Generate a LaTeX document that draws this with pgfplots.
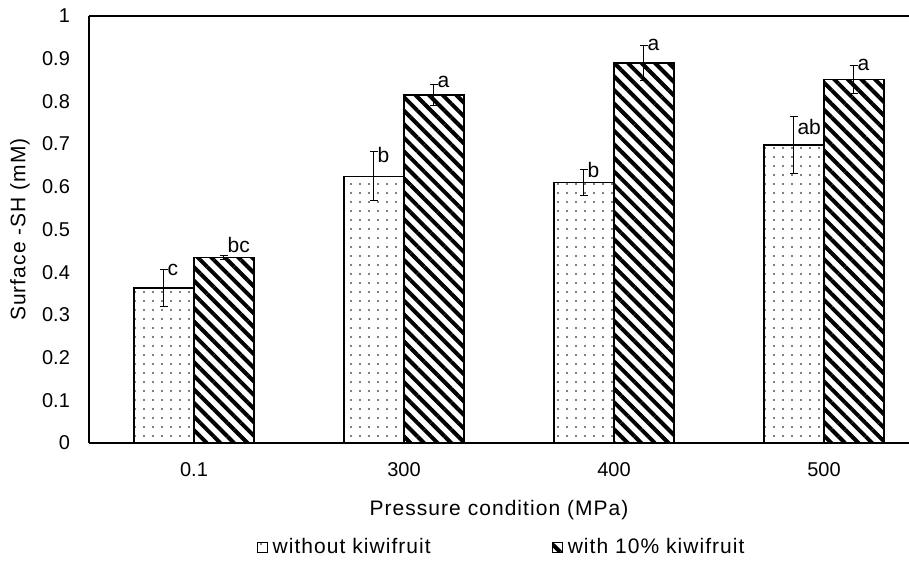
\documentclass[border=0pt]{standalone}
\usepackage{fontspec}
\setmainfont{Liberation Sans}
\newfontfamily\widefont[LetterSpace=5]{Liberation Sans}
\usepackage{pgfplots}
\pgfplotsset{compat=1.18}
\usepackage{pgfplotstable}
\usetikzlibrary{patterns.meta,calc}

% x: category index, w = without kiwifruit, k = with 10% kiwifruit
% wo/ko: small vertical nudge of the letter label (pt)
\pgfplotstableread{
x w werr wl wo k kerr kl ko
0 0.363 0.043 c 0 0.435 0.005 bc 5
1 0.625 0.058 b -2 0.815 0.025 a 1
2 0.610 0.030 b 0 0.890 0.042 a 0
3 0.698 0.066 ab -5 0.852 0.033 a 0
}\shdata

\begin{document}
\fontsize{10}{12}\selectfont
\begin{tikzpicture}
\begin{axis}[
  name=ax,
  scale only axis,
  width=410pt, height=213.5pt,
  ybar=0pt, bar width=30pt,
  xmin=-0.5, xmax=3.405,
  ymin=0, ymax=1,
  axis x line*=bottom, axis y line*=left,
  axis line style={-, line width=0.6pt},
  xtick=data, xticklabels={0.1,300,400,500},
  ytick={0,0.1,...,1.01},
  major tick length=0pt,
  /pgf/number format/assume math mode=true,
  yticklabel={\pgfmathprintnumber[fixed,precision=1]{\tick}},
  yticklabel style={xshift=-6pt},
  xticklabel style={yshift=-6pt},
  xlabel={Pressure condition (MPa)},
  ylabel={Surface -SH (mM)},
  every axis x label/.style={at={(axis description cs:0.5,0)}, anchor=center, yshift=-33.5pt,
    font=\widefont\fontsize{10.5}{12}\selectfont},
  every axis y label/.style={at={(axis description cs:0,0.5)}, anchor=center, xshift=-34.5pt, rotate=90,
    font=\widefont\fontsize{10.5}{12}\selectfont},
  error bars/y dir=both, error bars/y explicit,
  error bars/error bar style={line width=0.5pt, black},
  error bars/error mark options={rotate=90, mark size=2pt, line width=0.5pt, black},
  legend columns=2,
  legend style={draw=none, fill=none, at={(0.505,0)}, anchor=center, yshift=-52pt,
    font=\widefont\fontsize{10.5}{12}\selectfont,
    nodes={inner xsep=2.5pt},
    /tikz/every even column/.append style={column sep=58pt}},
  legend image code/.code={\draw[#1, line width=0.5pt] (0pt,-2.5pt) rectangle (5pt,2.5pt);},
  point meta=explicit symbolic,
  nodes near coords,
  nodes near coords style={anchor=west, font=\fontsize{10.5}{12}\selectfont, inner sep=1.5pt,
    shift={(axis direction cs:0,\myerr)}, yshift=\mynudge pt},
]
\addplot[draw=black, line width=0.6pt, pattern={Dots[distance=4.5pt, radius=0.45pt]},
  visualization depends on={\thisrow{werr} \as \myerr},
  visualization depends on={\thisrow{wo} \as \mynudge}]
  table[x=x, y=w, y error=werr, meta=wl] {\shdata};
\addlegendentry{without kiwifruit}
\addplot[draw=black, line width=0.6pt, pattern={Lines[angle=-45, distance=4.8pt, line width=2pt]},
  visualization depends on={\thisrow{kerr} \as \myerr},
  visualization depends on={\thisrow{ko} \as \mynudge}]
  table[x=x, y=k, y error=kerr, meta=kl] {\shdata};
\addlegendentry{with 10\% kiwifruit}
\draw[line width=0.6pt] (rel axis cs:0,1) -- (rel axis cs:1,1);
\end{axis}
\pgfresetboundingbox
\path ($(ax.south west)+(-44.5pt,-59.5pt)$) rectangle ($(ax.north east)+(0pt,8pt)$);
\end{tikzpicture}
\end{document}
